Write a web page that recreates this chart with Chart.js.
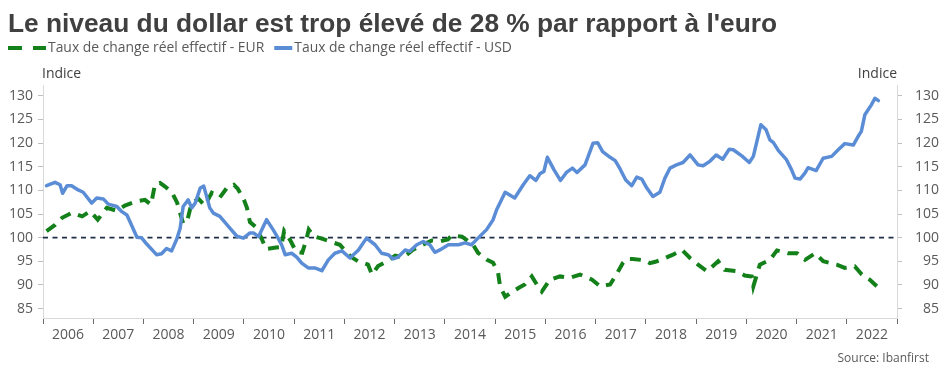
<!DOCTYPE html>
<html>
<head>
<meta charset="utf-8">
<script src="https://cdn.jsdelivr.net/npm/chart.js@4/dist/chart.umd.min.js"></script>
<style>
html,body{margin:0;padding:0;background:#fff;}
#wrap{width:939px;height:377px;}
</style>
</head>
<body>
<div id="wrap"><canvas id="c" width="939" height="377"></canvas></div>
<script>
const titleText = "Le niveau du dollar est trop élevé de 28 % par rapport à l'euro";
const eurLabel = "Taux de change réel effectif - EUR";
const usdLabel = "Taux de change réel effectif - USD";
const axisTitle = "Indice";
const sourceText = "Source: Ibanfirst";

const yearLabels = ["2006","2007","2008","2009","2010","2011","2012","2013","2014","2015","2016","2017","2018","2019","2020","2021","2022"];
const yTicks = [85,90,95,100,105,110,115,120,125,130];
const referenceLevel = 100;

const usdDates = [2006.07,2006.24,2006.34,2006.39,2006.48,2006.57,2006.70,2006.80,2006.97,2007.07,2007.20,2007.30,2007.47,2007.57,2007.67,2007.73,2007.87,2007.96,2008.06,2008.26,2008.36,2008.46,2008.56,2008.66,2008.73,2008.79,2008.89,2008.96,2009.03,2009.13,2009.20,2009.32,2009.39,2009.52,2009.72,2009.86,2009.99,2010.12,2010.19,2010.29,2010.45,2010.58,2010.68,2010.75,2010.82,2010.95,2011.05,2011.15,2011.28,2011.41,2011.55,2011.68,2011.81,2011.95,2012.11,2012.28,2012.44,2012.61,2012.74,2012.87,2012.97,2013.07,2013.21,2013.30,2013.44,2013.57,2013.70,2013.80,2013.90,2014.07,2014.27,2014.40,2014.53,2014.66,2014.83,2014.96,2015.03,2015.20,2015.39,2015.56,2015.69,2015.81,2015.89,2015.97,2016.04,2016.17,2016.30,2016.42,2016.54,2016.63,2016.79,2016.95,2017.04,2017.14,2017.29,2017.39,2017.48,2017.60,2017.72,2017.82,2017.92,2018.02,2018.14,2018.28,2018.38,2018.48,2018.61,2018.74,2018.88,2019.04,2019.14,2019.28,2019.40,2019.53,2019.66,2019.74,2019.91,2020.06,2020.14,2020.21,2020.29,2020.39,2020.47,2020.54,2020.64,2020.80,2020.90,2020.97,2021.07,2021.17,2021.23,2021.39,2021.53,2021.70,2021.83,2021.96,2022.13,2022.23,2022.29,2022.36,2022.49,2022.56,2022.63];
const usdValues = [111.0,111.7,111.2,109.4,111.0,111.0,110.1,109.6,107.3,108.4,108.2,107.1,106.6,105.5,104.8,103.4,100.1,100.0,98.7,96.4,96.6,97.7,97.2,99.6,102.0,106.6,108.0,106.3,107.3,110.5,110.9,106.3,105.2,104.5,102.0,100.3,99.9,101.0,101.0,100.2,103.8,101.7,99.9,98.5,96.4,96.7,95.9,94.6,93.6,93.6,93.0,95.3,96.7,97.2,95.7,97.4,99.9,98.5,96.7,96.4,95.5,95.9,97.4,97.1,98.5,99.2,98.5,96.9,97.4,98.5,98.5,98.9,98.5,99.9,101.7,103.8,105.9,109.6,108.4,111.2,113.1,112.1,113.5,114.0,117.0,114.4,112.1,113.8,114.7,113.8,115.4,120.0,120.1,118.2,117.0,116.3,114.7,112.2,111.0,112.8,112.4,110.5,108.7,109.6,112.6,114.7,115.4,115.9,117.5,115.4,115.2,116.2,117.5,116.6,118.7,118.6,117.3,115.9,117.2,120.3,123.9,122.9,120.7,120.1,118.4,116.5,114.4,112.6,112.4,113.7,114.8,114.2,116.8,117.2,118.6,119.9,119.6,121.5,122.5,126.0,128.1,129.5,129.0];

const eurDates = [2006.07,2006.24,2006.38,2006.58,2006.78,2006.94,2007.09,2007.27,2007.47,2007.63,2007.87,2008.03,2008.15,2008.23,2008.33,2008.43,2008.57,2008.67,2008.79,2008.87,2008.95,2009.09,2009.22,2009.36,2009.52,2009.68,2009.80,2009.88,2010.00,2010.06,2010.12,2010.24,2010.36,2010.44,2010.64,2010.74,2010.80,2010.92,2011.04,2011.16,2011.24,2011.29,2011.39,2011.55,2011.71,2011.91,2012.05,2012.15,2012.27,2012.47,2012.55,2012.67,2012.85,2013.01,2013.17,2013.36,2013.56,2013.74,2013.90,2014.06,2014.14,2014.34,2014.46,2014.56,2014.66,2014.84,2014.96,2015.06,2015.10,2015.20,2015.33,2015.49,2015.59,2015.73,2015.83,2015.93,2016.09,2016.29,2016.49,2016.69,2016.93,2017.09,2017.29,2017.43,2017.54,2017.62,2017.74,2017.98,2018.08,2018.19,2018.34,2018.54,2018.72,2018.88,2019.04,2019.14,2019.22,2019.44,2019.57,2019.81,2019.97,2020.11,2020.14,2020.27,2020.47,2020.61,2020.83,2021.01,2021.17,2021.37,2021.53,2021.80,2021.96,2022.16,2022.30,2022.46,2022.60];
const eurValues = [101.4,102.7,104.2,105.3,104.5,105.6,103.8,106.3,105.7,106.8,107.7,108.0,107.0,111.3,111.6,110.8,109.5,107.4,103.0,103.5,107.0,108.3,106.8,109.5,108.5,110.8,111.2,110.3,108.0,106.3,103.3,102.2,99.6,97.6,97.9,98.0,101.4,99.5,97.0,96.8,99.5,101.7,100.3,99.8,99.2,98.5,96.8,95.8,95.0,94.3,92.2,94.0,95.0,96.2,95.8,97.4,98.5,99.4,99.2,99.6,100.5,100.2,99.3,98.5,96.8,95.3,94.7,92.5,89.6,87.5,88.5,89.5,90.1,91.8,90.1,88.6,91.1,91.8,91.5,92.2,91.1,89.7,90.1,92.5,94.6,95.5,95.5,95.2,94.6,94.9,95.5,96.4,97.4,95.7,94.3,93.5,92.9,95.0,93.2,92.9,92.0,91.8,89.7,94.3,95.3,97.3,96.7,96.7,95.3,96.7,95.0,94.3,93.6,93.9,92.2,91.1,89.7];

const GREEN = '#13801a';
const BLUE = '#5a8dd6';
const TEXT = '#595959';
const FONT = "'Open Sans', 'Noto Sans', sans-serif";

const usdData = usdDates.map((d,i)=>({x:d,y:usdValues[i]}));
const eurData = eurDates.map((d,i)=>({x:d,y:eurValues[i]}));
const firstYear = Number(yearLabels[0]);
const lastYear = Number(yearLabels[yearLabels.length-1]) + 1;
const refData = [{x:firstYear,y:referenceLevel},{x:lastYear,y:referenceLevel}];

const textPlugin = {
  id: 'texts',
  afterDraw(chart){
    const ctx = chart.ctx;
    const ca = chart.chartArea;
    ctx.save();
    // Title
    ctx.fillStyle = '#404040';
    ctx.font = "bold 26.3px 'Liberation Sans', Arial, sans-serif";
    ctx.textAlign = 'left';
    ctx.textBaseline = 'alphabetic';
    ctx.fillText(titleText, 8, 32);
    // Legend
    const ly = 48;
    ctx.font = "13.9px " + FONT;
    ctx.textBaseline = 'middle';
    ctx.lineCap = 'butt';
    ctx.lineWidth = 4;
    ctx.strokeStyle = GREEN;
    ctx.setLineDash([14,11]);
    ctx.beginPath(); ctx.moveTo(8, ly); ctx.lineTo(46, ly); ctx.stroke();
    ctx.setLineDash([]);
    ctx.fillStyle = TEXT;
    ctx.fillText(eurLabel, 48, ly);
    const w1 = ctx.measureText(eurLabel).width;
    const bx = 48 + w1 + 10;
    ctx.strokeStyle = BLUE;
    ctx.beginPath(); ctx.moveTo(bx, ly); ctx.lineTo(bx + 18, ly); ctx.stroke();
    ctx.fillText(usdLabel, bx + 20, ly);
    // Axis titles
    ctx.font = "14px " + FONT;
    ctx.fillStyle = '#404040';
    ctx.textAlign = 'left';
    ctx.fillText(axisTitle, ca.left - 1, 74);
    ctx.textAlign = 'right';
    ctx.fillText(axisTitle, ca.right, 74);
    // Source
    ctx.font = "12px " + FONT;
    ctx.fillStyle = TEXT;
    ctx.fillText(sourceText, 929, 359);
    ctx.restore();
  }
};

const yTickBuild = (scale)=>{ scale.ticks = yTicks.map(v=>({value:v})); };

new Chart(document.getElementById('c'), {
  type: 'line',
  data: {
    datasets: [
      {label: usdLabel, data: usdData, borderColor: BLUE, borderWidth: 3.5, borderJoinStyle:'round', borderCapStyle:'round', pointRadius:0, tension:0, xAxisID:'x', yAxisID:'y', order:1},
      {label: eurLabel, data: eurData, borderColor: GREEN, borderWidth: 4, borderDash:[11,8], borderCapStyle:'butt', pointRadius:0, tension:0, xAxisID:'x', yAxisID:'y', order:2},
      {label: 'ref', data: refData, borderColor: '#1f2f45', borderWidth: 1.8, borderDash:[5,4.5], pointRadius:0, tension:0, xAxisID:'x', yAxisID:'y', order:3}
    ]
  },
  options: {
    responsive: false,
    devicePixelRatio: 1,
    animation: false,
    layout: {padding: {top: 85, left: 0, right: 0, bottom: 0}},
    plugins: {legend: {display:false}, title:{display:false}, tooltip:{enabled:false}},
    scales: {
      x: {type:'linear', min:firstYear, max:lastYear, display:false},
      years: {type:'category', labels: yearLabels, position:'bottom', offset:true,
        grid:{offset:true, drawOnChartArea:false, drawTicks:true, tickLength:6, color:'#6b6b6b', lineWidth:1},
        border:{display:true, color:'#d9d9d9', width:1},
        ticks:{font:{family:FONT, size:14}, color:TEXT, padding:3, maxRotation:0, autoSkip:false},
        afterFit(s){ s.height = 59; }
      },
      y: {type:'linear', position:'left', min:83, max:132.3,
        afterBuildTicks: yTickBuild,
        grid:{drawOnChartArea:false, drawTicks:true, tickLength:5, color:'#bfbfbf'},
        border:{display:true, color:'#d9d9d9', width:1},
        ticks:{font:{family:FONT, size:14}, color:TEXT, padding:5},
        afterFit(s){ s.width = 43; }
      },
      y2: {type:'linear', position:'right', min:83, max:132.3,
        afterBuildTicks: yTickBuild,
        grid:{drawOnChartArea:false, drawTicks:true, tickLength:5, color:'#bfbfbf'},
        border:{display:true, color:'#d9d9d9', width:1},
        ticks:{font:{family:FONT, size:14}, color:TEXT, padding:5, crossAlign:'far'},
        afterFit(s){ s.width = 42; }
      }
    }
  },
  plugins: [textPlugin]
});
</script>
</body>
</html>
